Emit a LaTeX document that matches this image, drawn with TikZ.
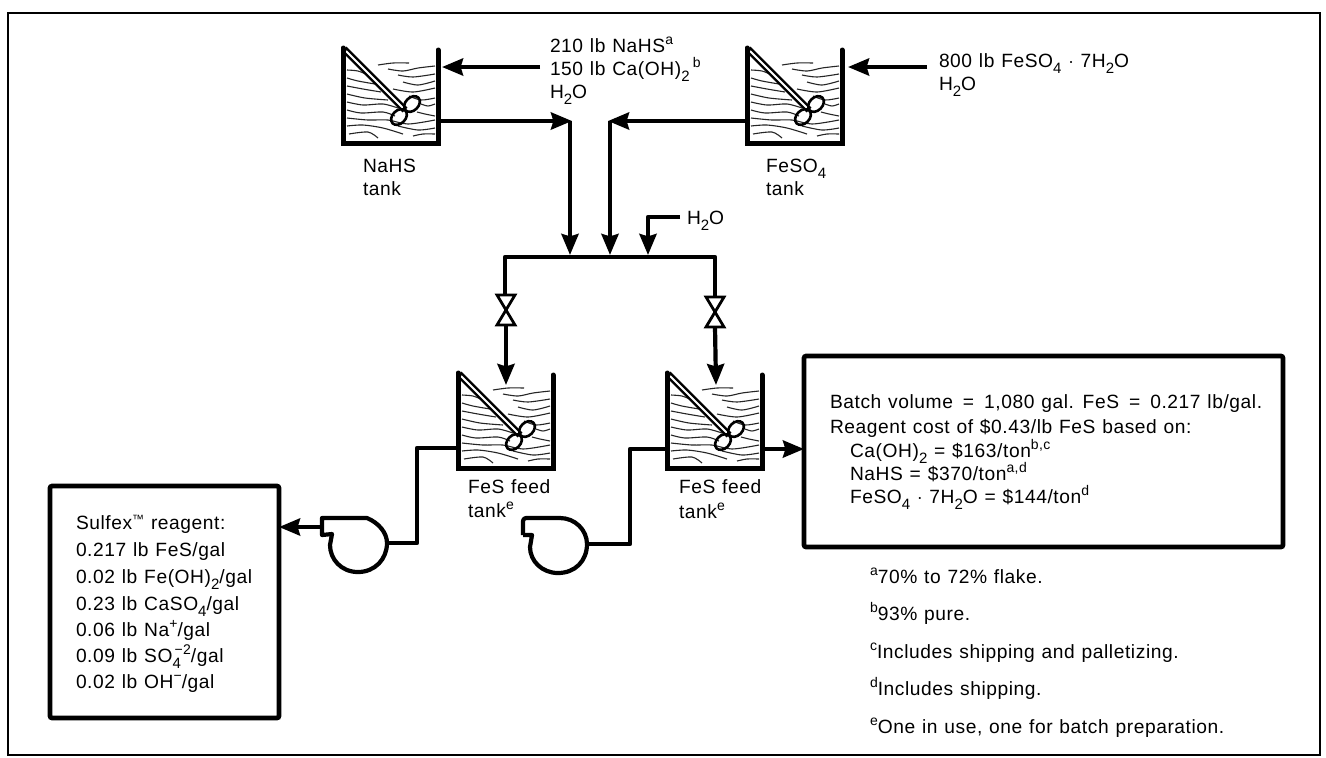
\documentclass[tikz,border=0pt]{standalone}
\usepackage{fontspec}
\setmainfont[LetterSpace=3,WordSpace=1.15]{Liberation Sans}
\usetikzlibrary{arrows.meta}
\newcommand{\sbs}[1]{\raisebox{-0.6ex}{\fontsize{7.5}{8}\selectfont #1}}
\newcommand{\sps}[1]{\raisebox{0.75ex}{\fontsize{7}{8}\selectfont #1}}
\newcommand{\tankshape}[2]{%
  \begin{scope}[shift={#1}]
    \node[tankbody] (#2) at (47.5,47.5) {};
    \foreach \wave in {
      {(35,17) (50,15) (66,15)},{(45,21) (60,23) (75,20) (92,18)},
      {(4,22) (15,23) (25,27)},{(55,27) (70,29) (92,26)},
      {(4,30) (15,33) (32,36)},{(60,34) (75,37) (92,33)},
      {(4,38) (20,41) (38,44)},{(50,41) (70,44) (92,40)},
      {(4,46) (22,50) (45,52)},{(66,48) (78,52) (92,50)},
      {(4,54) (20,57) (40,56) (55,60)},{(78,56) (85,58) (92,56)},
      {(4,62) (18,65) (40,64) (52,68)},{(74,64) (82,66) (92,68)},
      {(4,70) (25,72) (45,72) (65,76) (92,72)},
      {(4,78) (20,77) (40,80) (60,86)},{(55,78) (75,82) (92,80)},
      {(6,86) (25,84) (35,90)},{(70,88) (80,86) (92,86)}}
      {\draw[waveline] plot[smooth] coordinates \wave;}
    \draw[line width=3.4pt] (1,1) -- (62,62);
    \draw[white,line width=1pt] (3,3) -- (60,60);
    \draw[blade,rotate around={45:(69,56)}] (69,56) ellipse (9 and 6.5);
    \draw[blade,rotate around={45:(56,69)}] (56,69) ellipse (9 and 6.5);
    \draw[wall] (0,0) -- (0,95) -- (95,95) -- (95,2);
  \end{scope}}
\newcommand{\valveshape}[3]{%
  \coordinate (#3top) at (#1,#2-15);
  \coordinate (#3bot) at (#1,#2+15);
  \draw[valveline] (#1,#2) ++(-9,-15) -- ++(18,0) -- ++(-18,30) -- ++(18,0) -- cycle;}
\tikzset{
  tankbody/.style={minimum width=47.5pt,minimum height=47.5pt,inner sep=0pt,outer sep=0pt},
  waveline/.style={line width=0.55pt,black!85},
  blade/.style={line width=1.3pt},
  wall/.style={line width=2.5pt,line join=miter,line cap=round},
  valveline/.style={line width=1.4pt,fill=white,line join=miter},
  pipe/.style={line width=2.1pt,line join=round},
  flow/.style={pipe,-{Stealth[length=10.5pt,width=8.5pt,inset=1.2pt]}},
  report/.style={draw,line width=2.3pt,inner sep=0pt,outer sep=0pt,rounded corners=1pt},
  lbl/.style={anchor=base west,inner sep=0pt,outer sep=0pt,font=\fontsize{9.6}{11}\selectfont},
  pumpline/.style={line width=2.1pt,line join=round},
}
\begin{document}
\begin{tikzpicture}[x=0.5pt,y=-0.5pt]
\useasboundingbox (0,0) rectangle (1326,757);
\fill[white] (0,0) rectangle (1326,757);
\draw[line width=1.2pt] (8,13) rectangle (1320,755);

% tanks
\tankshape{(343,48)}{tankNaHS}
\tankshape{(747,48)}{tankFeSO}
\tankshape{(458,373)}{tankFeedA}
\tankshape{(667,373)}{tankFeedB}

% report boxes
\node[report,minimum width=114.5pt,minimum height=116pt] (boxS) at (164.5,602) {};
\node[report,minimum width=239.5pt,minimum height=95.5pt] (boxB) at (1043.5,451.5) {};

% junctions
\coordinate (inA) at (540,67);
\coordinate (inB) at (927,67);
\coordinate (jA) at (570,121);
\coordinate (jB) at (610,121);
\coordinate (hA) at (570,255);
\coordinate (hB) at (610,255);
\coordinate (hC) at (648,255);
\coordinate (wA) at (680,217);
\coordinate (wB) at (648,217);
\coordinate (hR) at (715,257);
\coordinate (hL) at (505,257);
\coordinate (fA) at (506,385);
\coordinate (fB) at (716,385);
\coordinate (pAin) at (387,543);
\coordinate (pAb) at (417,543);
\coordinate (pAt) at (417,448);
\coordinate (pBin) at (587,544);
\coordinate (pBb) at (630,544);
\coordinate (pBt) at (630,449);
\coordinate (pAout) at (322,527);

% feeds into the upper tanks
\draw[flow] (inA) -- ([xshift=2]tankNaHS.east |- inA);
\draw[flow] (inB) -- ([xshift=3]tankFeSO.east |- inB);
% upper tanks to header
\draw[flow] (tankNaHS.east |- jA) -- ([xshift=1]jA);
\draw[flow] (tankFeSO.west |- jB) -- ([xshift=-1]jB);
\draw[flow] (jA) -- (hA);
\draw[flow] (jB) -- (hB);
\draw[flow] (wA) -- (wB) -- (hC);
% header and valves
\valveshape{506}{310}{va}
\valveshape{715}{312}{vb}
\draw[pipe] (hL |- vatop) -- (hL) -- (hR) -- (vbtop);
\draw[flow] (vabot) -- (fA);
\draw[flow] (vbbot) -- (fB);

% pumps
\draw[pumpline] (322,535) -- (322,518) -- (367,518)
   .. controls (379,523) and (387,533) .. (pAin)
   .. controls (387,559) and (375,572) .. (358,572)
   .. controls (341,572) and (330,559) .. (330,545) -- (332,534) -- cycle;
\draw[pipe] (tankFeedA.west |- pAt) -- (pAt) -- (pAb) -- (pAin);
\draw[flow] (pAout) -- (boxS.east |- pAout);

\draw[pumpline,rounded corners=1.5pt] (523,535) -- (523,518) -- (560,518);
\draw[pumpline] (560,518)
   .. controls (575,518) and (587,530) .. (pBin)
   .. controls (587,561) and (575,573) .. (558,573)
   .. controls (542,573) and (530,561) .. (530,547) -- (532,535) -- (523,535);
\draw[pipe] (tankFeedB.west |- pBt) -- (pBt) -- (pBb) -- (pBin);
\draw[flow] (tankFeedB.east |- pBt) -- (boxB.west |- pBt);

% labels
\node[lbl] (t1) at (550,52) {210 lb NaHS\sps{a}};
\node[lbl] (t2) at (550,75) {150 lb Ca(OH)\sbs{2}\,\sps{b}};
\node[lbl] (t3) at (550,98) {H\sbs{2}O};
\node[lbl] (t4) at (939,67) {800 lb FeSO\sbs{4} $\cdot$ 7H\sbs{2}O};
\node[lbl] (t5) at (939,90) {H\sbs{2}O};
\node[lbl] (t6) at (363,172) {NaHS};
\node[lbl] (t7) at (363,195) {tank};
\node[lbl] (t8) at (766,172) {FeSO\sbs{4}};
\node[lbl] (t9) at (766,195) {tank};
\node[lbl] (t10) at (687,224) {H\sbs{2}O};
\node[lbl] (t11) at (468,493) {FeS feed};
\node[lbl] (t12) at (468,517) {tank\sps{e}};
\node[lbl] (t13) at (679,493) {FeS feed};
\node[lbl] (t14) at (679,518) {tank\sps{e}};

\node[lbl] (s1) at (76,529) {Sulfex\raisebox{0.5ex}{\fontsize{6}{7}\selectfont ™} reagent:};
\node[lbl] (s2) at (76,556) {0.217 lb FeS/gal};
\node[lbl] (s3) at (76,583) {0.02 lb Fe(OH)\sbs{2}/gal};
\node[lbl] (s4) at (76,610) {0.23 lb CaSO\sbs{4}/gal};
\node[lbl] (s5) at (76,636) {0.06 lb Na\sps{+}/gal};
\node[lbl] (s6) at (76,662) {0.09 lb SO\rlap{\sbs{4}}\hspace{1pt}\sps{−2}/gal};
\node[lbl] (s7) at (76,688) {0.02 lb OH\sps{−}/gal};

\node[lbl] (b1) at (830,408) {Batch volume \,=\, 1,080 gal. FeS \,=\, 0.217 lb/gal.};
\node[lbl] (b2) at (830,433) {Reagent cost of \$0.43/lb FeS based on:};
\node[lbl] (b3) at (850,457) {Ca(OH)\sbs{2} = \$163/ton\sps{b,c}};
\node[lbl] (b4) at (850,480) {NaHS = \$370/ton\sps{a,d}};
\node[lbl] (b5) at (850,503) {FeSO\sbs{4} $\cdot$ 7H\sbs{2}O = \$144/ton\sps{d}};

\node[lbl] (n1) at (870,583) {\sps{a}70\% to 72\% flake.};
\node[lbl] (n2) at (870,620) {\sps{b}93\% pure.};
\node[lbl] (n3) at (870,658) {\sps{c}Includes shipping and palletizing.};
\node[lbl] (n4) at (870,695) {\sps{d}Includes shipping.};
\node[lbl] (n5) at (870,733) {\sps{e}One in use, one for batch preparation.};
\end{tikzpicture}
\end{document}
